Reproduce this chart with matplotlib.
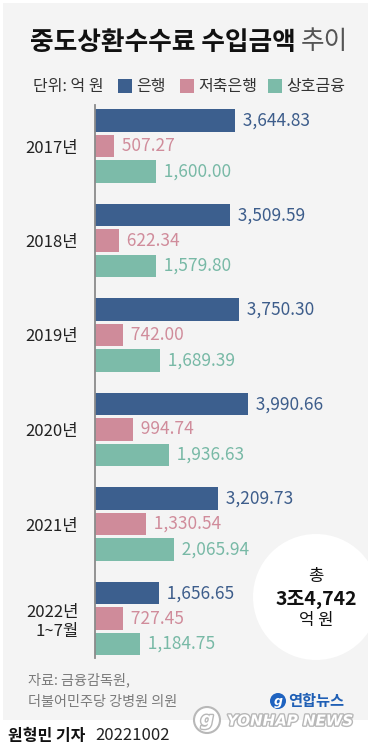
import matplotlib
matplotlib.use("Agg")
import matplotlib.pyplot as plt
from matplotlib.patches import Rectangle, Circle
import matplotlib.patheffects as pe
import numpy as np

plt.rcParams['font.family'] = ['Noto Sans CJK KR', 'DejaVu Sans']

# ---- data ----
categories = ["2017년", "2018년", "2019년", "2020년", "2021년", "2022년\n1~7월"]
series_names = ["은행", "저축은행", "상호금융"]
bank = [3644.83, 3509.59, 3750.30, 3990.66, 3209.73, 1656.65]
savings = [507.27, 622.34, 742.00, 994.74, 1330.54, 727.45]
mutual = [1600.00, 1579.80, 1689.39, 1936.63, 2065.94, 1184.75]
title_bold = "중도상환수수료 수입금액"
title_light = "추이"
unit_text = "단위: 억 원"
total_lines = ["총", "3조4,742", "억 원"]
source_lines = ["자료: 금융감독원,", "더불어민주당 강병원 의원"]
byline_name = "원형민 기자"
byline_date = "20221002"

bar_colors = ["#3c5f8e", "#cf8b9a", "#7cbba9"]
text_colors = ["#3d5d8b", "#d08c9b", "#78b9a6"]

W, H = 371, 750
fig = plt.figure(figsize=(W / 100, H / 100), dpi=100)
fig.patch.set_facecolor("white")

# background axes in pixel coordinates
bg = fig.add_axes([0, 0, 1, 1])
bg.set_xlim(0, W)
bg.set_ylim(H, 0)
bg.axis("off")
bg.add_patch(Rectangle((3, 3), W - 6, 717, facecolor="#f4f4f4", edgecolor="none"))
bg.add_patch(Circle((316, 597), 63, facecolor="white", edgecolor="none"))

# title
t1 = bg.text(30, 42, title_bold, fontsize=18.5, fontweight="bold", color="#111111",
             ha="left", va="center")
fig.canvas.draw()
r = fig.canvas.get_renderer()
bb = t1.get_window_extent(renderer=r)
x_end = bb.x1
bg.text(x_end + 5, 42, title_light, fontsize=18.5, color="#555555", ha="left", va="center",
        fontweight="light")

# legend row
bg.text(33, 86, unit_text, fontsize=11.5, color="#333333", ha="left", va="center")
legend_x = [118, 180, 268]
for i, name in enumerate(series_names):
    bg.add_patch(Rectangle((legend_x[i], 79), 13.5, 14, facecolor=bar_colors[i], edgecolor="none"))
    bg.text(legend_x[i] + 18.5, 86, name, fontsize=11.5, color="#333333", ha="left", va="center")

# bars axes
ax_left, ax_top, ax_bottom = 95, 100, 660
px_per_unit = 0.0384
ax = fig.add_axes([ax_left / W, (H - ax_bottom) / H, (W - ax_left) / W, (ax_bottom - ax_top) / H])
ax.patch.set_alpha(0)
group_px = 94.5
ax.set_xlim(0, (W - ax_left) / px_per_unit)
y_top = -46 / group_px
y_bot = y_top + (ax_bottom - ax_top) / group_px
ax.set_ylim(y_bot, y_top)

n = len(categories)
y = np.arange(n)
offset = 25.3 / group_px
height = 22.5 / group_px
series = [bank, savings, mutual]
for k, vals in enumerate(series):
    yy = y + (k - 1) * offset
    ax.barh(yy, vals, height=height, color=bar_colors[k], left=0)
    for yi, v in zip(yy, vals):
        ax.text(v, yi, f"  {v:,.2f}", fontsize=12.5, color=text_colors[k], ha="left",
                va="center", fontweight="medium")

ax.set_yticks(y)
ax.set_yticklabels(categories, fontsize=12, color="#222222", linespacing=1.2)
ax.tick_params(axis="y", length=0, pad=12)
ax.set_xticks([])
for s in ["top", "right", "bottom"]:
    ax.spines[s].set_visible(False)
ax.spines["left"].set_color("#8a8a8a")
ax.spines["left"].set_linewidth(1.3)
ax.spines["left"].set_bounds(y[0] - offset - height / 2 - 0.05, y[-1] + offset + height / 2 + 0.03)
for lbl in ax.get_yticklabels():
    lbl.set_horizontalalignment("right")
    lbl.set_multialignment("right")

# total circle text
bg.text(316, 577, total_lines[0], fontsize=12, color="#111111", ha="center", va="center",
        fontweight="medium")
bg.text(316, 599, total_lines[1], fontsize=14, color="#111111", ha="center", va="center",
        fontweight="bold")
bg.text(316, 621, total_lines[2], fontsize=12, color="#111111", ha="center", va="center")

# source
bg.text(28, 680, source_lines[0], fontsize=10.2, color="#7a7a7a", ha="left", va="center")
bg.text(28, 702, source_lines[1], fontsize=10.2, color="#7a7a7a", ha="left", va="center")

# logo
bg.add_patch(Circle((278, 701), 8, facecolor="#1f63c0", edgecolor="none"))
bg.text(278, 701, "g", fontsize=9, color="white", ha="center", va="center", fontstyle="italic",
        fontweight="bold", family="DejaVu Sans")
bg.text(288, 701, "연합뉴스", fontsize=11, color="#1f5fb5", ha="left", va="center",
        fontweight="bold")
wm = bg.text(227, 721, "YONHAP NEWS", fontsize=10.8, color="white", ha="left", va="center",
             fontweight="bold", fontstyle="italic", family="DejaVu Sans")
wm.set_path_effects([pe.withStroke(linewidth=2, foreground="#b8b8b8")])
bg.add_patch(Circle((207, 720), 13, facecolor="white", edgecolor="#b8b8b8", linewidth=1.5))
g2 = bg.text(207, 720, "g", fontsize=13, color="white", ha="center", va="center",
             fontstyle="italic", fontweight="bold", family="DejaVu Sans")
g2.set_path_effects([pe.withStroke(linewidth=2, foreground="#b8b8b8")])

# byline
bg.text(8, 736, byline_name, fontsize=11.5, color="#111111", ha="left", va="center",
        fontweight="bold")
bg.text(95, 736, byline_date, fontsize=12, color="#222222", ha="left", va="center")

fig.savefig("out.png", dpi=100, facecolor="white")
